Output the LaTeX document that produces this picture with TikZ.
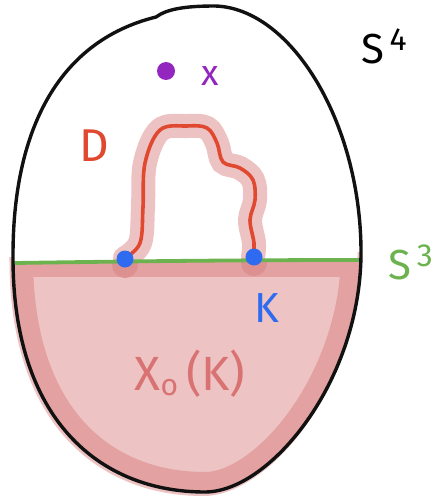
\documentclass[tikz,border=0pt]{standalone}
\usepackage{fontspec}
\setmainfont{Fira Sans}
\definecolor{outlinek}{HTML}{111111}
\definecolor{pinklight}{HTML}{EDC3C3}
\definecolor{pinkband}{HTML}{E3A1A1}
\definecolor{pinkhalo}{HTML}{EDC2C2}
\definecolor{pinkdot}{HTML}{DC9090}
\definecolor{redD}{HTML}{E0482F}
\definecolor{greenS}{HTML}{6CB24E}
\definecolor{blueK}{HTML}{2F6BF0}
\definecolor{purpx}{HTML}{9326BE}
\definecolor{xzero}{HTML}{D97272}
\tikzset{
  lbl/.style={inner sep=0pt, font=#1},
  kdot/.style={circle, fill=blueK, inner sep=0pt, minimum size=17pt},
}
\begin{document}
\begin{tikzpicture}[x=1pt,y=-1pt]
\useasboundingbox (0,0) rectangle (434,500);
\def\outline{(13,255) .. controls (13,135) and (55,42) .. (156,17) .. controls (167,9) and (185,6) .. (215,6) .. controls (290,8) and (360,120) .. (361,250) .. controls (362,380) and (270,492) .. (205,492) .. controls (100,492) and (12,420) .. cycle}
\def\lowerarc{(361,250) .. controls (362,380) and (270,492) .. (205,492) .. controls (100,492) and (12,420) .. (13,255)}
% faint pink spill outside the outline
\draw[pinkhalo, line width=4pt, shift={(-1.5pt,-2pt)}] \lowerarc;
% lower region X_0(K)
\begin{scope}
  \clip \outline;
  \clip (0,261) rectangle (434,500);
  \fill[pinklight] (0,0) rectangle (434,500);
  \draw[pinkband, line width=40pt] \outline;
  \fill[pinkband] (0,255) rectangle (434,277);
  \fill[pinkdot] (125,265) circle (13);
  \fill[pinkdot] (254,263) circle (13);
\end{scope}
% disk D with halo
\def\Dpath{plot[smooth, tension=0.6] coordinates {(125,258) (140,243) (143,207) (145,163) (160,130) (187,126) (207,128) (217,143) (223,162) (240,168) (253,180) (255,200) (250,220) (254,243) (253,257)}}
\begin{scope}
  \clip (0,0) rectangle (434,261);
  \draw[pinkhalo, line width=24pt, line cap=round] \Dpath;
\end{scope}
\draw[redD, line width=3.6pt] \Dpath;
% S^3 line
\draw[greenS, line width=3.8pt, line cap=round] (15,263) .. controls (150,261) and (250,260) .. (360,260);
% outline S^4
\draw[outlinek, line width=3.4pt, line join=round] \outline;
% K points
\node[kdot] (k1) at (125,259) {};
\node[kdot] (k2) at (254,257) {};
% point x
\node[circle, fill=purpx, inner sep=0pt, minimum size=18pt] (xpt) at (166,71) {};
% labels
\node[lbl={\fontsize{36}{36}\selectfont}, text=purpx] (xl) at (210,76) {x};
\node[lbl={\fontsize{42}{42}\selectfont}, text=black] (s4) at (384,46) {S\raisebox{13pt}{\fontsize{32}{32}\selectfont\,4}};
\node[lbl={\fontsize{42}{42}\selectfont}, text=greenS, anchor=east] (s3) at (433,262) {S\raisebox{13pt}{\fontsize{32}{32}\selectfont\,3}};
\node[lbl={\fontsize{42}{42}\selectfont}, text=blueK] (kl) at (267,308) {K};
\node[lbl={\fontsize{46}{46}\selectfont}, text=redD] (dl) at (94,146) {D};
\node[lbl={\fontsize{48}{48}\selectfont}, text=xzero] (x0) at (190,374) {X\raisebox{-5pt}{\fontsize{30}{30}\selectfont o}\,(K)};
\end{tikzpicture}
\end{document}
